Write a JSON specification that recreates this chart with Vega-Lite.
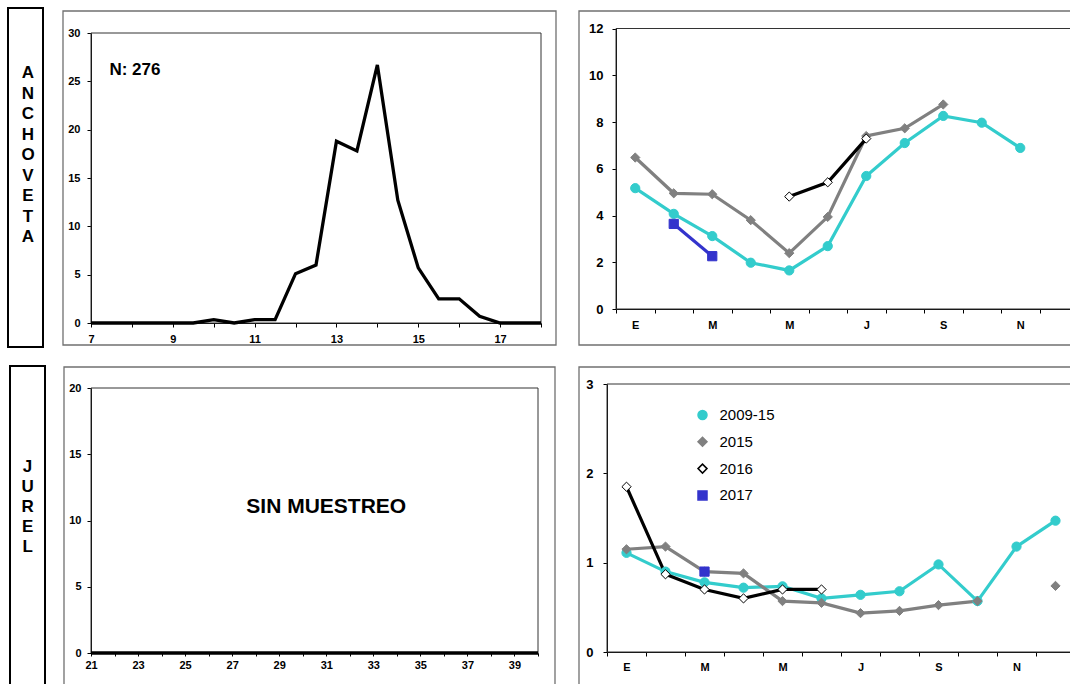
{
  "$schema": "https://vega.github.io/schema/vega-lite/v6.json",
  "width": 1070,
  "height": 684,
  "autosize": {"type": "none"},
  "padding": 0,
  "background": "white",
  "config": {
    "view": {"stroke": null},
    "font": "Liberation Sans",
    "axis": {"grid": false, "domainColor": "#000", "tickColor": "#000", "labelColor": "#000", "labelFont": "Liberation Sans", "labelFontWeight": "bold", "labelFlush": false, "labelOverlap": false, "domainWidth": 1, "tickWidth": 1}
  },
  "datasets": {
    "anchoveta_talla": [
      {"talla": 7, "frecuencia": 0}, {"talla": 7.5, "frecuencia": 0}, {"talla": 8, "frecuencia": 0}, {"talla": 8.5, "frecuencia": 0},
      {"talla": 9, "frecuencia": 0}, {"talla": 9.5, "frecuencia": 0}, {"talla": 10, "frecuencia": 0.35}, {"talla": 10.5, "frecuencia": 0},
      {"talla": 11, "frecuencia": 0.35}, {"talla": 11.5, "frecuencia": 0.35}, {"talla": 12, "frecuencia": 5.1}, {"talla": 12.5, "frecuencia": 6.0},
      {"talla": 13, "frecuencia": 18.8}, {"talla": 13.5, "frecuencia": 17.8}, {"talla": 14, "frecuencia": 26.7}, {"talla": 14.5, "frecuencia": 12.7},
      {"talla": 15, "frecuencia": 5.7}, {"talla": 15.5, "frecuencia": 2.5}, {"talla": 16, "frecuencia": 2.5}, {"talla": 16.5, "frecuencia": 0.7},
      {"talla": 17, "frecuencia": 0}, {"talla": 17.5, "frecuencia": 0}, {"talla": 18, "frecuencia": 0}
    ],
    "jurel_talla": [
      {"talla": 21, "frecuencia": 0}, {"talla": 22, "frecuencia": 0}, {"talla": 23, "frecuencia": 0}, {"talla": 24, "frecuencia": 0},
      {"talla": 25, "frecuencia": 0}, {"talla": 26, "frecuencia": 0}, {"talla": 27, "frecuencia": 0}, {"talla": 28, "frecuencia": 0},
      {"talla": 29, "frecuencia": 0}, {"talla": 30, "frecuencia": 0}, {"talla": 31, "frecuencia": 0}, {"talla": 32, "frecuencia": 0},
      {"talla": 33, "frecuencia": 0}, {"talla": 34, "frecuencia": 0}, {"talla": 35, "frecuencia": 0}, {"talla": 36, "frecuencia": 0},
      {"talla": 37, "frecuencia": 0}, {"talla": 38, "frecuencia": 0}, {"talla": 39, "frecuencia": 0}, {"talla": 40, "frecuencia": 0}
    ],
    "anchoveta_mes": [
      {"mes": 1, "serie": "2009-15", "valor": 5.17}, {"mes": 2, "serie": "2009-15", "valor": 4.07}, {"mes": 3, "serie": "2009-15", "valor": 3.12},
      {"mes": 4, "serie": "2009-15", "valor": 1.98}, {"mes": 5, "serie": "2009-15", "valor": 1.65}, {"mes": 6, "serie": "2009-15", "valor": 2.69},
      {"mes": 7, "serie": "2009-15", "valor": 5.69}, {"mes": 8, "serie": "2009-15", "valor": 7.10}, {"mes": 9, "serie": "2009-15", "valor": 8.26},
      {"mes": 10, "serie": "2009-15", "valor": 7.97}, {"mes": 11, "serie": "2009-15", "valor": 6.89},
      {"mes": 1, "serie": "2015", "valor": 6.48}, {"mes": 2, "serie": "2015", "valor": 4.95}, {"mes": 3, "serie": "2015", "valor": 4.91},
      {"mes": 4, "serie": "2015", "valor": 3.80}, {"mes": 5, "serie": "2015", "valor": 2.39}, {"mes": 6, "serie": "2015", "valor": 3.94},
      {"mes": 7, "serie": "2015", "valor": 7.40}, {"mes": 8, "serie": "2015", "valor": 7.73}, {"mes": 9, "serie": "2015", "valor": 8.75},
      {"mes": 5, "serie": "2016", "valor": 4.81}, {"mes": 6, "serie": "2016", "valor": 5.42}, {"mes": 7, "serie": "2016", "valor": 7.29},
      {"mes": 2, "serie": "2017", "valor": 3.64}, {"mes": 3, "serie": "2017", "valor": 2.26}
    ],
    "jurel_mes": [
      {"mes": 1, "serie": "2009-15", "valor": 1.11}, {"mes": 2, "serie": "2009-15", "valor": 0.90}, {"mes": 3, "serie": "2009-15", "valor": 0.78},
      {"mes": 4, "serie": "2009-15", "valor": 0.72}, {"mes": 5, "serie": "2009-15", "valor": 0.735}, {"mes": 6, "serie": "2009-15", "valor": 0.60},
      {"mes": 7, "serie": "2009-15", "valor": 0.64}, {"mes": 8, "serie": "2009-15", "valor": 0.68}, {"mes": 9, "serie": "2009-15", "valor": 0.98},
      {"mes": 10, "serie": "2009-15", "valor": 0.57}, {"mes": 11, "serie": "2009-15", "valor": 1.18}, {"mes": 12, "serie": "2009-15", "valor": 1.47},
      {"mes": 1, "serie": "2015", "valor": 1.15}, {"mes": 2, "serie": "2015", "valor": 1.18}, {"mes": 3, "serie": "2015", "valor": 0.90},
      {"mes": 4, "serie": "2015", "valor": 0.88}, {"mes": 5, "serie": "2015", "valor": 0.57}, {"mes": 6, "serie": "2015", "valor": 0.55},
      {"mes": 7, "serie": "2015", "valor": 0.435}, {"mes": 8, "serie": "2015", "valor": 0.46}, {"mes": 9, "serie": "2015", "valor": 0.525},
      {"mes": 10, "serie": "2015", "valor": 0.57}, {"mes": 11, "serie": "2015", "valor": null}, {"mes": 12, "serie": "2015", "valor": 0.74},
      {"mes": 1, "serie": "2016", "valor": 1.85}, {"mes": 2, "serie": "2016", "valor": 0.87}, {"mes": 3, "serie": "2016", "valor": 0.70},
      {"mes": 4, "serie": "2016", "valor": 0.60}, {"mes": 5, "serie": "2016", "valor": 0.70}, {"mes": 6, "serie": "2016", "valor": 0.70},
      {"mes": 3, "serie": "2017", "valor": 0.90}
    ]
  },
  "layer": [
    {
      "data": {"values": [{"especie": "A\nN\nC\nH\nO\nV\nE\nT\nA"}]},
      "layer": [
        {"mark": {"type": "rect", "filled": false, "stroke": "#000", "strokeWidth": 2},
         "encoding": {
           "x": {"datum": 0, "type": "quantitative", "scale": {"domain": [0, 1], "range": [8, 43]}, "axis": null},
           "x2": {"datum": 1},
           "y": {"datum": 0, "type": "quantitative", "scale": {"domain": [0, 1], "range": [8, 347]}, "axis": null},
           "y2": {"datum": 1}}},
        {"mark": {"type": "text", "fontSize": 17, "fontWeight": "bold", "lineBreak": "\n", "lineHeight": 20.5, "align": "center", "baseline": "middle", "color": "#000"},
         "encoding": {"text": {"field": "especie"}, "x": {"datum": 0.571, "type": "quantitative"}, "y": {"datum": 0.192, "type": "quantitative"}}}
      ]
    },
    {
      "data": {"values": [{"especie": "J\nU\nR\nE\nL"}]},
      "layer": [
        {"mark": {"type": "rect", "filled": false, "stroke": "#000", "strokeWidth": 2},
         "encoding": {
           "x": {"datum": 0, "type": "quantitative", "scale": {"domain": [0, 1], "range": [10, 45]}, "axis": null},
           "x2": {"datum": 1},
           "y": {"datum": 0, "type": "quantitative", "scale": {"domain": [0, 1], "range": [366, 720]}, "axis": null},
           "y2": {"datum": 1}}},
        {"mark": {"type": "text", "fontSize": 17, "fontWeight": "bold", "lineBreak": "\n", "lineHeight": 20, "align": "center", "baseline": "middle", "color": "#000"},
         "encoding": {"text": {"field": "especie"}, "x": {"datum": 0.503, "type": "quantitative"}, "y": {"datum": 0.285, "type": "quantitative"}}}
      ]
    },
    {
      "data": {"values": [{"marco": "talla anchoveta"}]},
      "mark": {"type": "rect", "filled": false, "stroke": "#707070", "strokeWidth": 1.3},
      "encoding": {
        "x": {"datum": 0, "type": "quantitative", "scale": {"domain": [0, 1], "range": [63, 556]}, "axis": null},
        "x2": {"datum": 1},
        "y": {"datum": 0, "type": "quantitative", "scale": {"domain": [0, 1], "range": [11, 345]}, "axis": null},
        "y2": {"datum": 1}}
    },
    {
      "data": {"values": [{"marco": "mensual anchoveta"}]},
      "mark": {"type": "rect", "filled": false, "stroke": "#707070", "strokeWidth": 1.3},
      "encoding": {
        "x": {"datum": 0, "type": "quantitative", "scale": {"domain": [0, 1], "range": [579, 1100]}, "axis": null},
        "x2": {"datum": 1},
        "y": {"datum": 0, "type": "quantitative", "scale": {"domain": [0, 1], "range": [11, 345]}, "axis": null},
        "y2": {"datum": 1}}
    },
    {
      "data": {"values": [{"marco": "talla jurel"}]},
      "mark": {"type": "rect", "filled": false, "stroke": "#707070", "strokeWidth": 1.3},
      "encoding": {
        "x": {"datum": 0, "type": "quantitative", "scale": {"domain": [0, 1], "range": [64, 555]}, "axis": null},
        "x2": {"datum": 1},
        "y": {"datum": 0, "type": "quantitative", "scale": {"domain": [0, 1], "range": [367, 720]}, "axis": null},
        "y2": {"datum": 1}}
    },
    {
      "data": {"values": [{"marco": "mensual jurel"}]},
      "mark": {"type": "rect", "filled": false, "stroke": "#707070", "strokeWidth": 1.3},
      "encoding": {
        "x": {"datum": 0, "type": "quantitative", "scale": {"domain": [0, 1], "range": [579, 1100]}, "axis": null},
        "x2": {"datum": 1},
        "y": {"datum": 0, "type": "quantitative", "scale": {"domain": [0, 1], "range": [367, 720]}, "axis": null},
        "y2": {"datum": 1}}
    },
    {
      "layer": [
        {"data": {"values": [{"marco": "area de trazado"}]},
         "mark": {"type": "rect", "filled": false, "stroke": "#333", "strokeWidth": 1},
         "encoding": {
           "x": {"datum": 7, "type": "quantitative", "scale": {"domain": [7, 18], "range": [91, 541], "nice": false, "zero": false},
                 "axis": {"orient": "bottom", "offset": -361, "title": null, "format": "d", "values": [7, 7.5, 8, 8.5, 9, 9.5, 10, 10.5, 11, 11.5, 12, 12.5, 13, 13.5, 14, 14.5, 15, 15.5, 16, 16.5, 17, 17.5, 18], "labelExpr": "datum.value % 2 == 1 ? datum.label : ''", "tickSize": 4, "labelPadding": 6, "labelFontSize": 11}},
           "x2": {"datum": 18},
           "y": {"datum": 0, "type": "quantitative", "scale": {"domain": [0, 30], "range": [323, 33], "nice": false},
                 "axis": {"orient": "left", "offset": -91, "title": null, "format": "d", "values": [0, 5, 10, 15, 20, 25, 30], "tickSize": 4, "labelPadding": 7, "labelFontSize": 11}},
           "y2": {"datum": 30}}},
        {"data": {"name": "anchoveta_talla"},
         "mark": {"type": "line", "color": "#000", "strokeWidth": 3.3},
         "encoding": {"x": {"field": "talla", "type": "quantitative"}, "y": {"field": "frecuencia", "type": "quantitative"}}},
        {"data": {"values": [{"etiqueta": "N: 276"}]},
         "mark": {"type": "text", "fontSize": 17, "fontWeight": "bold", "align": "left", "baseline": "middle", "color": "#000"},
         "encoding": {"text": {"field": "etiqueta"}, "x": {"datum": 7.45, "type": "quantitative"}, "y": {"datum": 26.2, "type": "quantitative"}}}
      ]
    },
    {
      "layer": [
        {"data": {"values": [{"marco": "area de trazado"}]},
         "mark": {"type": "rect", "filled": false, "stroke": "#333", "strokeWidth": 1},
         "encoding": {
           "x": {"datum": 0.5, "type": "quantitative", "scale": {"domain": [0.5, 12.5], "range": [616, 1078], "nice": false, "zero": false},
                 "axis": {"orient": "bottom", "offset": -375, "title": null, "values": [0.5, 1.5, 2.5, 3.5, 4.5, 5.5, 6.5, 7.5, 8.5, 9.5, 10.5, 11.5, 12.5], "labelExpr": "['E','','M','','M','','J','','S','','N','',''][floor(datum.value)]", "labelOffset": 19.25, "tickSize": 4, "labelPadding": 6, "labelFontSize": 11}},
           "x2": {"datum": 12.5},
           "y": {"datum": 0, "type": "quantitative", "scale": {"domain": [0, 12], "range": [309, 28.5], "nice": false},
                 "axis": {"orient": "left", "offset": -616, "title": null, "format": "d", "values": [0, 2, 4, 6, 8, 10, 12], "tickSize": 4, "labelPadding": 9, "labelFontSize": 13}},
           "y2": {"datum": 12}}},
        {"data": {"name": "anchoveta_mes"},
         "mark": {"type": "line", "strokeWidth": 3.2},
         "encoding": {
           "x": {"field": "mes", "type": "quantitative"},
           "y": {"field": "valor", "type": "quantitative"},
           "stroke": {"field": "serie", "type": "nominal", "title": null, "scale": {"domain": ["2009-15", "2015", "2016", "2017"], "range": ["#33CCCC", "#808080", "#000000", "#3333CC"]}}}},
        {"data": {"name": "anchoveta_mes"},
         "mark": {"type": "point", "filled": true, "opacity": 1, "size": 85, "strokeWidth": 1},
         "encoding": {
           "x": {"field": "mes", "type": "quantitative"},
           "y": {"field": "valor", "type": "quantitative"},
           "stroke": {"field": "serie", "type": "nominal", "title": null, "scale": {"domain": ["2009-15", "2015", "2016", "2017"], "range": ["#33CCCC", "#808080", "#000000", "#3333CC"]}},
           "fill": {"field": "serie", "type": "nominal", "title": null, "scale": {"domain": ["2009-15", "2015", "2016", "2017"], "range": ["#33CCCC", "#808080", "#FFFFFF", "#3333CC"]}},
           "shape": {"field": "serie", "type": "nominal", "title": null, "scale": {"domain": ["2009-15", "2015", "2016", "2017"], "range": ["circle", "diamond", "diamond", "square"]}}}}
      ]
    },
    {
      "layer": [
        {"data": {"values": [{"marco": "area de trazado"}]},
         "mark": {"type": "rect", "filled": false, "stroke": "#333", "strokeWidth": 1},
         "encoding": {
           "x": {"datum": 21, "type": "quantitative", "scale": {"domain": [21, 40], "range": [91, 538], "nice": false, "zero": false},
                 "axis": {"orient": "bottom", "offset": -31, "title": null, "format": "d", "values": [21, 22, 23, 24, 25, 26, 27, 28, 29, 30, 31, 32, 33, 34, 35, 36, 37, 38, 39, 40], "labelExpr": "datum.value % 2 == 1 ? datum.label : ''", "tickSize": 3, "labelPadding": 3, "labelFontSize": 11}},
           "x2": {"datum": 40},
           "y": {"datum": 0, "type": "quantitative", "scale": {"domain": [0, 20], "range": [653, 388], "nice": false},
                 "axis": {"orient": "left", "offset": -91, "title": null, "format": "d", "values": [0, 5, 10, 15, 20], "tickSize": 4, "labelPadding": 6, "labelFontSize": 11}},
           "y2": {"datum": 20}}},
        {"data": {"name": "jurel_talla"},
         "mark": {"type": "line", "color": "#000", "strokeWidth": 3.3},
         "encoding": {"x": {"field": "talla", "type": "quantitative"}, "y": {"field": "frecuencia", "type": "quantitative"}}},
        {"data": {"values": [{"etiqueta": "SIN MUESTREO"}]},
         "mark": {"type": "text", "fontSize": 21, "fontWeight": "bold", "align": "center", "baseline": "middle", "color": "#000"},
         "encoding": {"text": {"field": "etiqueta"}, "x": {"datum": 31, "type": "quantitative"}, "y": {"datum": 11.0, "type": "quantitative"}}}
      ]
    },
    {
      "layer": [
        {"data": {"values": [{"marco": "area de trazado"}]},
         "mark": {"type": "rect", "filled": false, "stroke": "#333", "strokeWidth": 1},
         "encoding": {
           "x": {"datum": 0.5, "type": "quantitative", "scale": {"domain": [0.5, 12.5], "range": [607, 1075], "nice": false, "zero": false},
                 "axis": {"orient": "bottom", "offset": -32, "title": null, "values": [0.5, 1.5, 2.5, 3.5, 4.5, 5.5, 6.5, 7.5, 8.5, 9.5, 10.5, 11.5, 12.5], "labelExpr": "['E','','M','','M','','J','','S','','N','',''][floor(datum.value)]", "labelOffset": 19.5, "tickSize": 4, "labelPadding": 5, "labelFontSize": 11}},
           "x2": {"datum": 12.5},
           "y": {"datum": 0, "type": "quantitative", "scale": {"domain": [0, 3], "range": [652, 384], "nice": false},
                 "axis": {"orient": "left", "offset": -607, "title": null, "format": "d", "values": [0, 1, 2, 3], "tickSize": 4, "labelPadding": 10, "labelFontSize": 13}},
           "y2": {"datum": 3}}},
        {"data": {"name": "jurel_mes"},
         "mark": {"type": "line", "strokeWidth": 3.2, "invalid": "break-paths-show-domains"},
         "encoding": {
           "x": {"field": "mes", "type": "quantitative"},
           "y": {"field": "valor", "type": "quantitative"},
           "stroke": {"field": "serie", "type": "nominal", "title": null, "scale": {"domain": ["2009-15", "2015", "2016", "2017"], "range": ["#33CCCC", "#808080", "#000000", "#3333CC"]}}}},
        {"data": {"name": "jurel_mes"},
         "mark": {"type": "point", "filled": true, "opacity": 1, "size": 85, "strokeWidth": 1},
         "encoding": {
           "x": {"field": "mes", "type": "quantitative"},
           "y": {"field": "valor", "type": "quantitative"},
           "stroke": {"field": "serie", "type": "nominal", "title": null, "scale": {"domain": ["2009-15", "2015", "2016", "2017"], "range": ["#33CCCC", "#808080", "#000000", "#3333CC"]},
                      "legend": {"orient": "none", "legendX": 695, "legendY": 407.5, "labelFontSize": 15, "labelFont": "Liberation Sans", "labelColor": "#000", "symbolSize": 81, "symbolStrokeWidth": 1.5, "rowPadding": 10.8, "labelOffset": 9.5, "padding": 0}},
           "fill": {"field": "serie", "type": "nominal", "title": null, "scale": {"domain": ["2009-15", "2015", "2016", "2017"], "range": ["#33CCCC", "#808080", "#FFFFFF", "#3333CC"]}},
           "shape": {"field": "serie", "type": "nominal", "title": null, "scale": {"domain": ["2009-15", "2015", "2016", "2017"], "range": ["circle", "diamond", "diamond", "square"]}}}}
      ]
    }
  ],
  "resolve": {"scale": {"x": "independent", "y": "independent"}, "axis": {"x": "independent", "y": "independent"}}
}
